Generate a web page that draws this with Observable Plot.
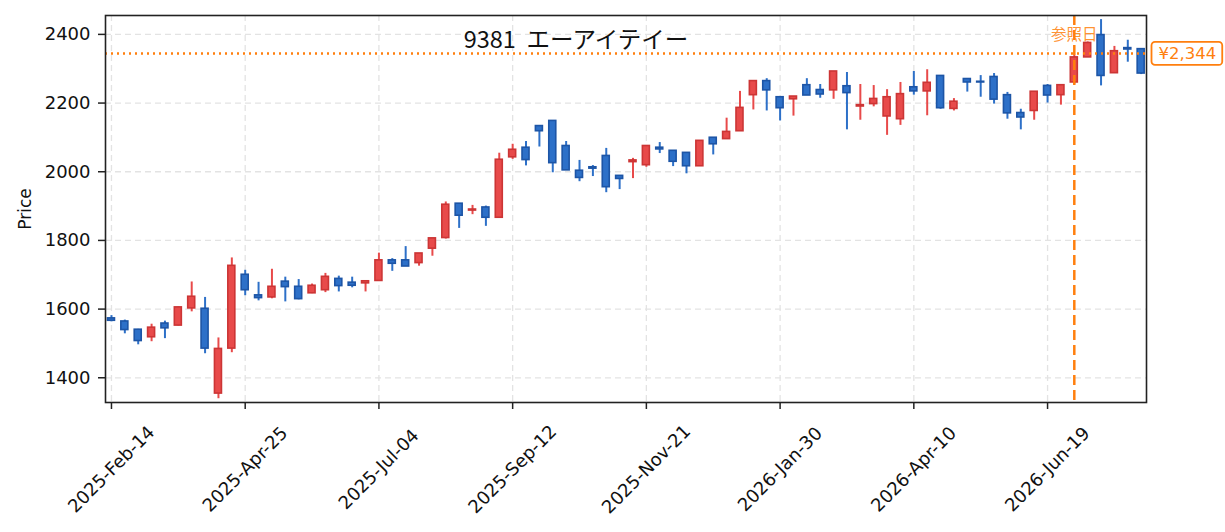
<!DOCTYPE html>
<html><head><meta charset="utf-8">
<script src="https://cdn.jsdelivr.net/npm/d3@7"></script>
<script src="https://cdn.jsdelivr.net/npm/@observablehq/plot@0.6"></script>
<style>body{margin:0;background:#fff;}</style>
</head><body><div id="chart"></div>
<script>
const dates = ["2025-02-14","2025-02-21","2025-02-28","2025-03-07","2025-03-14","2025-03-21","2025-03-28","2025-04-04","2025-04-11","2025-04-18",
"2025-04-25","2025-05-02","2025-05-09","2025-05-16","2025-05-23","2025-05-30","2025-06-06","2025-06-13","2025-06-20","2025-06-27",
"2025-07-04","2025-07-11","2025-07-18","2025-07-25","2025-08-01","2025-08-08","2025-08-15","2025-08-22","2025-08-29","2025-09-05",
"2025-09-12","2025-09-19","2025-09-26","2025-10-03","2025-10-10","2025-10-17","2025-10-24","2025-10-31","2025-11-07","2025-11-14",
"2025-11-21","2025-11-28","2025-12-05","2025-12-12","2025-12-19","2025-12-26","2026-01-02","2026-01-09","2026-01-16","2026-01-23",
"2026-01-30","2026-02-06","2026-02-13","2026-02-20","2026-02-27","2026-03-06","2026-03-13","2026-03-20","2026-03-27","2026-04-03",
"2026-04-10","2026-04-17","2026-04-24","2026-05-01","2026-05-08","2026-05-15","2026-05-22","2026-05-29","2026-06-05","2026-06-12",
"2026-06-19","2026-06-26","2026-07-03","2026-07-10","2026-07-17","2026-07-24","2026-07-31","2026-08-07"];
const open  = [1573,1564,1540,1518,1558,1552,1602,1601,1354,1485, 1700,1640,1634,1680,1665,1646,1655,1688,1677,1675,
               1682,1742,1742,1734,1776,1807,1907,1887,1896,1866, 2042,2070,2133,2148,2075,2003,2013,2046,1988,2028,
               2019,2070,2061,2055,2016,2099,2095,2118,2223,2264, 2217,2211,2252,2238,2237,2249,2190,2197,2161,2153,
               2246,2234,2279,2183,2270,2262,2276,2223,2171,2177, 2250,2223,2260,2333,2398,2287,2360,2357];
const high  = [1581,1568,1541,1556,1565,1606,1679,1634,1516,1749, 1713,1678,1716,1693,1686,1673,1704,1696,1693,1681,
               1763,1747,1782,1762,1806,1912,1907,1902,1900,2054, 2080,2088,2133,2148,2088,2033,2018,2068,1988,2039,
               2075,2085,2061,2055,2090,2099,2156,2234,2264,2271, 2217,2219,2271,2254,2292,2289,2254,2251,2239,2260,
               2292,2297,2279,2213,2270,2280,2286,2231,2182,2233, 2254,2252,2339,2378,2443,2365,2383,2357];
const low   = [1563,1528,1496,1505,1514,1551,1592,1470,1339,1473, 1639,1624,1630,1621,1627,1645,1648,1650,1662,1650,
               1681,1710,1724,1725,1754,1804,1835,1875,1841,1866, 2036,2017,2072,1997,2004,1971,1986,1939,1948,1980,
               2013,2053,2015,1994,2016,2049,2095,2118,2180,2177, 2148,2162,2222,2214,2211,2122,2150,2189,2106,2135,
               2223,2163,2182,2177,2232,2217,2197,2153,2122,2150, 2200,2194,2255,2333,2250,2287,2319,2283];
const close = [1566,1539,1507,1546,1544,1605,1636,1485,1484,1726, 1655,1632,1665,1664,1629,1668,1694,1667,1668,1681,
               1742,1732,1724,1762,1806,1904,1872,1890,1866,2035, 2064,2034,2118,2025,2004,1982,2009,1955,1979,2033,
               2075,2065,2029,2016,2090,2080,2116,2186,2264,2237, 2185,2219,2222,2225,2292,2229,2194,2212,2217,2226,
               2234,2259,2185,2204,2260,2260,2210,2170,2158,2233, 2222,2252,2333,2375,2279,2351,2356,2286];
const tickDates = ["2025-02-14","2025-04-25","2025-07-04","2025-09-12","2025-11-21","2026-01-30","2026-04-10","2026-06-19"];
const yTicks = [1400,1600,1800,2000,2200,2400];
const refDate = "2026-07-03";
const refPrice = 2344;
const titleText = "9381  エーアイテイー";
const refLabel = "参照日";
const yLabel = "Price";

const rows = dates.map((d, i) => ({date: new Date(d), open: open[i], high: high[i], low: low[i], close: close[i]}));
const up = rows.filter(d => d.close >= d.open);
const down = rows.filter(d => d.close < d.open);
const ticks = tickDates.map(d => new Date(d));
const fmt = d3.utcFormat("%Y-%b-%d");

const RED = "#e84a4a", RED_EDGE = "#cc3535", BLUE = "#2d70c8", BLUE_EDGE = "#1d55a6", ORANGE = "#ff7f0e";
const GRID = {stroke: "#e3e3e3", strokeOpacity: 1, strokeDasharray: "6,4", strokeWidth: 1.3};
const half = 44;
const bx1 = d => d3.utcHour.offset(d.date, -half);
const bx2 = d => d3.utcHour.offset(d.date, half);
const CJK = "Noto Sans CJK JP";

const chart = Plot.plot({
  width: 1225, height: 532,
  marginLeft: 105, marginRight: 79, marginTop: 15, marginBottom: 130,
  style: {fontFamily: "DejaVu Sans", fontSize: "18px", background: "#fff", overflow: "visible"},
  x: {type: "utc", domain: [d3.utcHour.offset(rows[0].date, -75), d3.utcHour.offset(rows[rows.length - 1].date, 67)]},
  y: {domain: [1328, 2455]},
  marks: [
    Plot.gridY(yTicks, GRID),
    Plot.gridX(ticks, GRID),
    Plot.text([titleText], {frameAnchor: "top", dx: -50, dy: 25, lineAnchor: "middle", fontSize: 23.5, fontFamily: CJK, fill: "#111"}),
    Plot.text([refLabel], {x: () => new Date(refDate), frameAnchor: "top", dy: 20, lineAnchor: "middle", fill: ORANGE, fillOpacity: 0.85, fontSize: 15.5, fontFamily: CJK}),
    Plot.ruleX(up, {x: "date", y1: "low", y2: "high", stroke: RED, strokeWidth: 2}),
    Plot.ruleX(down, {x: "date", y1: "low", y2: "high", stroke: BLUE, strokeWidth: 2}),
    Plot.rect(up, {x1: bx1, x2: bx2, y1: "open", y2: "close", fill: RED, stroke: RED_EDGE, strokeWidth: 1.6}),
    Plot.rect(down, {x1: bx1, x2: bx2, y1: "open", y2: "close", fill: BLUE, stroke: BLUE_EDGE, strokeWidth: 1.6}),
    Plot.ruleY([refPrice], {stroke: ORANGE, strokeWidth: 2.5, strokeDasharray: "2,4"}),
    Plot.ruleX([new Date(refDate)], {stroke: ORANGE, strokeWidth: 2.5, strokeDasharray: "10,5"}),
    Plot.frame({stroke: "#222", strokeWidth: 1.6}),
    Plot.axisY(yTicks, {tickSize: 7, tickPadding: 8, label: null, fontSize: 18, tickFormat: d3.format("d"), stroke: "#222", strokeWidth: 1.5, fill: "#111"}),
    Plot.axisX(ticks, {tickSize: 7, tickFormat: () => "", label: null, stroke: "#222", strokeWidth: 1.5}),
    Plot.text(ticks, {x: d => d, text: d => fmt(d), frameAnchor: "bottom", dy: 67, rotate: -45, textAnchor: "middle", lineAnchor: "middle", fontSize: 18, fill: "#111"}),
    Plot.text([yLabel], {frameAnchor: "left", dx: -80, rotate: -90, textAnchor: "middle", lineAnchor: "middle", fontSize: 17, fill: "#111"}),
    Plot.text([refPrice], {y: d => d, text: d => "¥" + d3.format(",")(d), frameAnchor: "right", dx: 12, textAnchor: "start", lineAnchor: "middle", fill: ORANGE, fontSize: 16.5, className: "price-label"})
  ]
});
document.getElementById("chart").appendChild(chart);

// box around the price label, sized from the rendered text
const lbl = chart.querySelector(".price-label text");
if (lbl) {
  const bb = lbl.getBBox();
  const g = lbl.parentNode;
  const rect = document.createElementNS("http://www.w3.org/2000/svg", "rect");
  rect.setAttribute("x", bb.x - 7);
  rect.setAttribute("y", bb.y - 2);
  rect.setAttribute("width", bb.width + 13);
  rect.setAttribute("height", bb.height + 4);
  rect.setAttribute("rx", 3.5);
  rect.setAttribute("fill", "#fff");
  rect.setAttribute("stroke", ORANGE);
  rect.setAttribute("stroke-width", 1.8);
  rect.setAttribute("transform", lbl.getAttribute("transform") || "");
  g.insertBefore(rect, lbl);
}
</script>
</body></html>
